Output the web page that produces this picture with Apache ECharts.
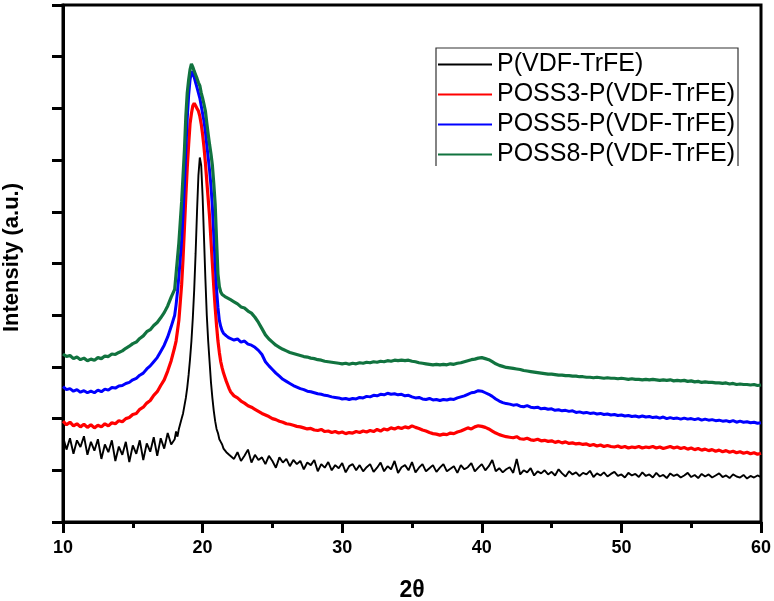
<!DOCTYPE html>
<html>
<head>
<meta charset="utf-8">
<script src="https://cdn.jsdelivr.net/npm/echarts@6/dist/echarts.min.js"></script>
<style>html,body{margin:0;padding:0;background:#fff}#c{width:774px;height:601px}</style>
</head>
<body>
<div id="c"></div>
<script>
// 2θ sampling: 10–17.75 step 0.25, 18.0–21.9 step 0.1, 22–60 step 0.25
const thetaSegments = [[10, 0.25, 32], [18, 0.1, 40], [22, 0.25, 153]];
const seriesNames = ['P(VDF-TrFE)', 'POSS3-P(VDF-TrFE)', 'POSS5-P(VDF-TrFE)', 'POSS8-P(VDF-TrFE)'];
const xTicks = [10, 20, 30, 40, 50, 60];

const pvdf = [
  1.65,1.40,1.62,1.32,1.58,1.45,1.66,1.30,1.55,1.38,1.60,1.22,1.50,1.35,1.58,1.18,1.46,1.30,1.55,1.16,1.48,1.32,1.58,1.20,1.52,1.36,1.64,1.28,1.62,1.42,1.72,1.50,
  1.6,1.75,1.65,1.8,1.9,2.0,2.1,2.25,2.4,2.6,2.85,3.15,3.5,3.95,4.5,5.2,6.0,6.7,7.05,6.9,6.3,5.5,4.7,4.0,3.5,3.1,2.7,2.4,2.15,1.95,1.8,1.72,1.6,1.55,1.5,1.42,1.45,1.35,1.38,1.3,
  1.32,1.22,1.35,1.18,1.28,1.40,1.15,1.30,1.20,1.25,
  1.12,1.28,1.18,1.05,1.25,1.15,1.22,1.08,1.20,1.12,
  1.18,1.02,1.15,1.10,1.20,0.98,1.12,1.05,1.16,1.00,
  1.10,1.04,1.14,0.96,1.08,1.12,1.00,1.10,0.98,1.06,
  1.12,0.97,1.05,1.15,0.98,1.08,1.02,1.18,0.95,1.06,
  1.10,1.00,1.16,0.96,1.05,1.12,0.98,1.04,1.10,0.97,
  1.05,1.12,0.98,1.03,1.08,0.95,1.10,1.02,1.06,1.14,
  0.98,1.05,1.12,1.00,1.08,1.20,0.98,1.04,0.96,1.02,
  1.06,0.95,1.22,0.92,1.00,0.96,1.04,0.90,0.98,0.94,
  1.00,0.92,0.97,0.90,1.02,0.94,0.88,0.98,0.92,0.96,
  0.89,0.95,0.92,0.99,0.87,0.94,0.90,0.96,0.88,0.93,
  0.97,0.89,0.92,0.86,0.95,0.90,0.93,0.87,0.96,0.89,
  0.92,0.86,0.95,0.88,0.91,0.85,0.94,0.89,0.92,0.86,
  0.90,0.95,0.87,0.91,0.85,0.93,0.88,0.92,0.86,0.90,
  0.94,0.87,0.90,0.85,0.92,0.88,0.86,0.91,0.84,0.89,
  0.86,0.90,0.87
];
const poss3 = [
  1.95,1.88,1.93,1.86,1.90,1.84,1.89,1.83,1.88,1.82,1.87,1.84,1.90,1.86,1.92,1.90,1.96,1.94,2.00,2.02,2.08,2.10,2.18,2.22,2.30,2.35,2.45,2.52,2.64,2.75,2.92,3.12,
  3.38,3.5,3.7,3.9,4.25,4.6,5.1,5.7,6.3,6.85,7.3,7.7,7.9,8.05,8.1,8.05,8.0,7.95,7.85,7.7,7.5,7.25,6.95,6.6,6.25,5.9,5.45,5.0,4.55,4.15,3.8,3.5,3.28,3.1,2.98,2.88,2.8,2.72,2.65,2.58,
  2.52,2.44,2.40,2.34,2.30,2.25,2.22,2.18,2.14,2.10,
  2.07,2.04,2.00,1.98,1.95,1.93,1.90,1.89,1.87,1.85,
  1.84,1.82,1.80,1.81,1.78,1.77,1.79,1.75,1.76,1.73,
  1.75,1.72,1.74,1.71,1.73,1.72,1.75,1.73,1.76,1.74,
  1.77,1.75,1.79,1.76,1.80,1.78,1.82,1.80,1.83,1.81,
  1.84,1.82,1.86,1.83,1.81,1.78,1.76,1.73,1.71,1.70,
  1.68,1.70,1.69,1.72,1.71,1.74,1.76,1.79,1.82,1.80,
  1.84,1.86,1.85,1.83,1.80,1.76,1.72,1.69,1.67,1.65,
  1.64,1.63,1.65,1.61,1.60,1.62,1.59,1.58,1.60,1.57,
  1.58,1.56,1.57,1.54,1.56,1.53,1.55,1.52,1.53,1.51,
  1.52,1.50,1.51,1.48,1.50,1.47,1.49,1.46,1.48,1.46,
  1.45,1.47,1.44,1.46,1.43,1.45,1.44,1.46,1.43,1.45,
  1.44,1.46,1.43,1.45,1.42,1.44,1.46,1.43,1.45,1.42,
  1.44,1.41,1.43,1.40,1.42,1.39,1.41,1.38,1.40,1.37,
  1.39,1.36,1.38,1.35,1.37,1.34,1.36,1.33,1.35,1.32,
  1.34,1.31,1.33
];
const poss5 = [
  2.62,2.56,2.58,2.53,2.56,2.51,2.54,2.50,2.53,2.50,2.55,2.52,2.57,2.55,2.60,2.59,2.63,2.64,2.68,2.70,2.75,2.78,2.84,2.88,2.96,3.02,3.10,3.18,3.30,3.42,3.58,3.78,
  4.0,4.2,4.45,4.75,5.1,5.45,5.95,6.55,7.2,7.8,8.25,8.55,8.72,8.7,8.6,8.5,8.4,8.3,8.2,8.05,7.9,7.75,7.55,7.3,7.05,6.8,6.5,6.1,5.55,5.0,4.5,4.15,3.9,3.78,3.7,3.65,3.62,3.6,3.58,3.56,
  3.56,3.52,3.54,3.48,3.50,3.44,3.42,3.38,3.32,3.24,
  3.10,3.02,2.95,2.88,2.82,2.76,2.72,2.68,2.64,2.61,
  2.58,2.56,2.53,2.52,2.50,2.48,2.47,2.45,2.44,2.42,
  2.41,2.40,2.38,2.39,2.37,2.39,2.38,2.41,2.40,2.43,
  2.42,2.45,2.44,2.47,2.46,2.49,2.47,2.48,2.46,2.47,
  2.44,2.45,2.42,2.40,2.41,2.38,2.37,2.39,2.36,2.37,
  2.35,2.37,2.36,2.38,2.37,2.40,2.42,2.44,2.47,2.50,
  2.51,2.54,2.53,2.50,2.47,2.43,2.38,2.34,2.31,2.29,
  2.28,2.26,2.27,2.24,2.23,2.25,2.22,2.21,2.22,2.19,
  2.20,2.18,2.19,2.16,2.17,2.15,2.16,2.14,2.15,2.12,
  2.13,2.11,2.12,2.10,2.11,2.09,2.10,2.08,2.09,2.07,
  2.08,2.06,2.07,2.05,2.06,2.04,2.05,2.03,2.05,2.03,
  2.04,2.02,2.03,2.01,2.03,2.00,2.02,2.00,2.01,1.99,
  2.01,1.99,2.00,1.98,2.00,1.97,1.99,1.97,1.98,1.96,
  1.97,1.95,1.96,1.94,1.96,1.93,1.95,1.93,1.94,1.92,
  1.93,1.91,1.92
];
const poss8 = [
  3.25,3.20,3.22,3.16,3.19,3.14,3.17,3.12,3.15,3.13,3.18,3.16,3.21,3.20,3.25,3.24,3.28,3.31,3.36,3.40,3.45,3.48,3.55,3.60,3.68,3.72,3.80,3.86,3.95,4.05,4.18,4.35,
  4.5,4.8,5.1,5.4,5.8,6.2,6.7,7.2,7.85,8.3,8.55,8.75,8.86,8.8,8.72,8.65,8.58,8.5,8.44,8.3,8.2,8.08,7.95,7.72,7.5,7.3,7.12,6.9,6.55,6.15,5.45,4.8,4.55,4.45,4.4,4.38,4.36,4.35,4.33,4.32,
  4.30,4.26,4.22,4.16,4.14,4.08,4.04,3.96,3.86,3.74,
  3.62,3.54,3.48,3.42,3.38,3.34,3.31,3.28,3.26,3.24,
  3.22,3.20,3.19,3.17,3.16,3.14,3.13,3.11,3.10,3.09,
  3.08,3.07,3.06,3.07,3.05,3.07,3.06,3.08,3.07,3.09,
  3.08,3.10,3.09,3.11,3.10,3.12,3.11,3.13,3.12,3.13,
  3.12,3.13,3.11,3.10,3.08,3.07,3.06,3.05,3.04,3.05,
  3.04,3.05,3.04,3.06,3.05,3.07,3.08,3.10,3.12,3.14,
  3.15,3.17,3.18,3.16,3.14,3.10,3.06,3.03,3.01,2.99,
  2.98,2.97,2.96,2.95,2.93,2.92,2.91,2.90,2.89,2.88,
  2.87,2.86,2.86,2.85,2.84,2.84,2.83,2.83,2.82,2.82,
  2.81,2.81,2.80,2.80,2.79,2.80,2.79,2.78,2.79,2.78,
  2.78,2.77,2.78,2.77,2.76,2.77,2.76,2.76,2.75,2.76,
  2.75,2.76,2.75,2.74,2.75,2.74,2.75,2.73,2.74,2.73,
  2.74,2.72,2.73,2.71,2.72,2.70,2.71,2.70,2.70,2.69,
  2.69,2.68,2.69,2.67,2.68,2.66,2.67,2.66,2.66,2.65,
  2.66,2.64,2.65
];

const twoTheta = [];
thetaSegments.forEach(([start, step, n]) => {
  for (let i = 0; i < n; i++) twoTheta.push(Math.round((start + step * i) * 100) / 100);
});

const values = [pvdf, poss3, poss5, poss8];
const colors = ['#000000', '#ff0000', '#0000ff', '#11733f'];
const widths = [1.9, 3.2, 3.0, 3.2];
const FONT = '"Liberation Sans", Arial, sans-serif';

const chart = echarts.init(document.getElementById('c'), null, {renderer: 'canvas'});
chart.setOption({
  animation: false,
  backgroundColor: '#fff',
  grid: {left: 63, right: 13, top: 5, bottom: 79, outerBoundsMode: 'none', containLabel: false,
    show: true, borderColor: '#000', borderWidth: 3, backgroundColor: 'transparent'},
  xAxis: {
    type: 'value', min: 10, max: 60, interval: 10,
    name: '2θ', nameLocation: 'middle', nameGap: 57,
    nameTextStyle: {fontFamily: FONT, fontWeight: 'bold', fontSize: 23, color: '#000'},
    axisLine: {show: true, lineStyle: {color: '#000', width: 3}},
    axisTick: {show: true, inside: false, length: 11, lineStyle: {color: '#000', width: 3}},
    minorTick: {show: true, splitNumber: 2, length: 6, lineStyle: {color: '#000', width: 3}},
    axisLabel: {show: true, margin: 17, fontFamily: FONT, fontWeight: 'bold', fontSize: 18, color: '#000',
      formatter: v => (xTicks.indexOf(v) >= 0 ? String(v) : '')},
    splitLine: {show: false}
  },
  yAxis: {
    type: 'value', min: 0, max: 10, interval: 1,
    name: 'Intensity (a.u.)', nameLocation: 'middle', nameGap: 40,
    nameTextStyle: {fontFamily: FONT, fontWeight: 'bold', fontSize: 22, color: '#000', padding: [0, 0, 0, 12]},
    axisLine: {show: true, lineStyle: {color: '#000', width: 3}},
    axisTick: {show: true, inside: false, length: 11, lineStyle: {color: '#000', width: 3}},
    axisLabel: {show: false},
    splitLine: {show: false}
  },
  legend: {
    orient: 'vertical', left: 438, top: 52, padding: 0, itemGap: 5,
    itemWidth: 54, itemHeight: 2, icon: 'rect',
    textStyle: {fontFamily: FONT, fontSize: 25, lineHeight: 24, color: '#000'},
    data: seriesNames
  },
  graphic: [{
    type: 'polyline', silent: true, z: 10,
    shape: {points: [[436, 166], [436, 48], [738, 48], [738, 166]]},
    style: {stroke: '#333', lineWidth: 1.2, fill: null}
  }],
  series: seriesNames.map((name, k) => ({
    name, type: 'line', showSymbol: false, symbol: 'none',
    data: twoTheta.map((x, i) => [x, values[k][i]]),
    lineStyle: {color: colors[k], width: widths[k]},
    itemStyle: {color: colors[k]},
    z: 2 + k
  }))
});
</script>
</body>
</html>
